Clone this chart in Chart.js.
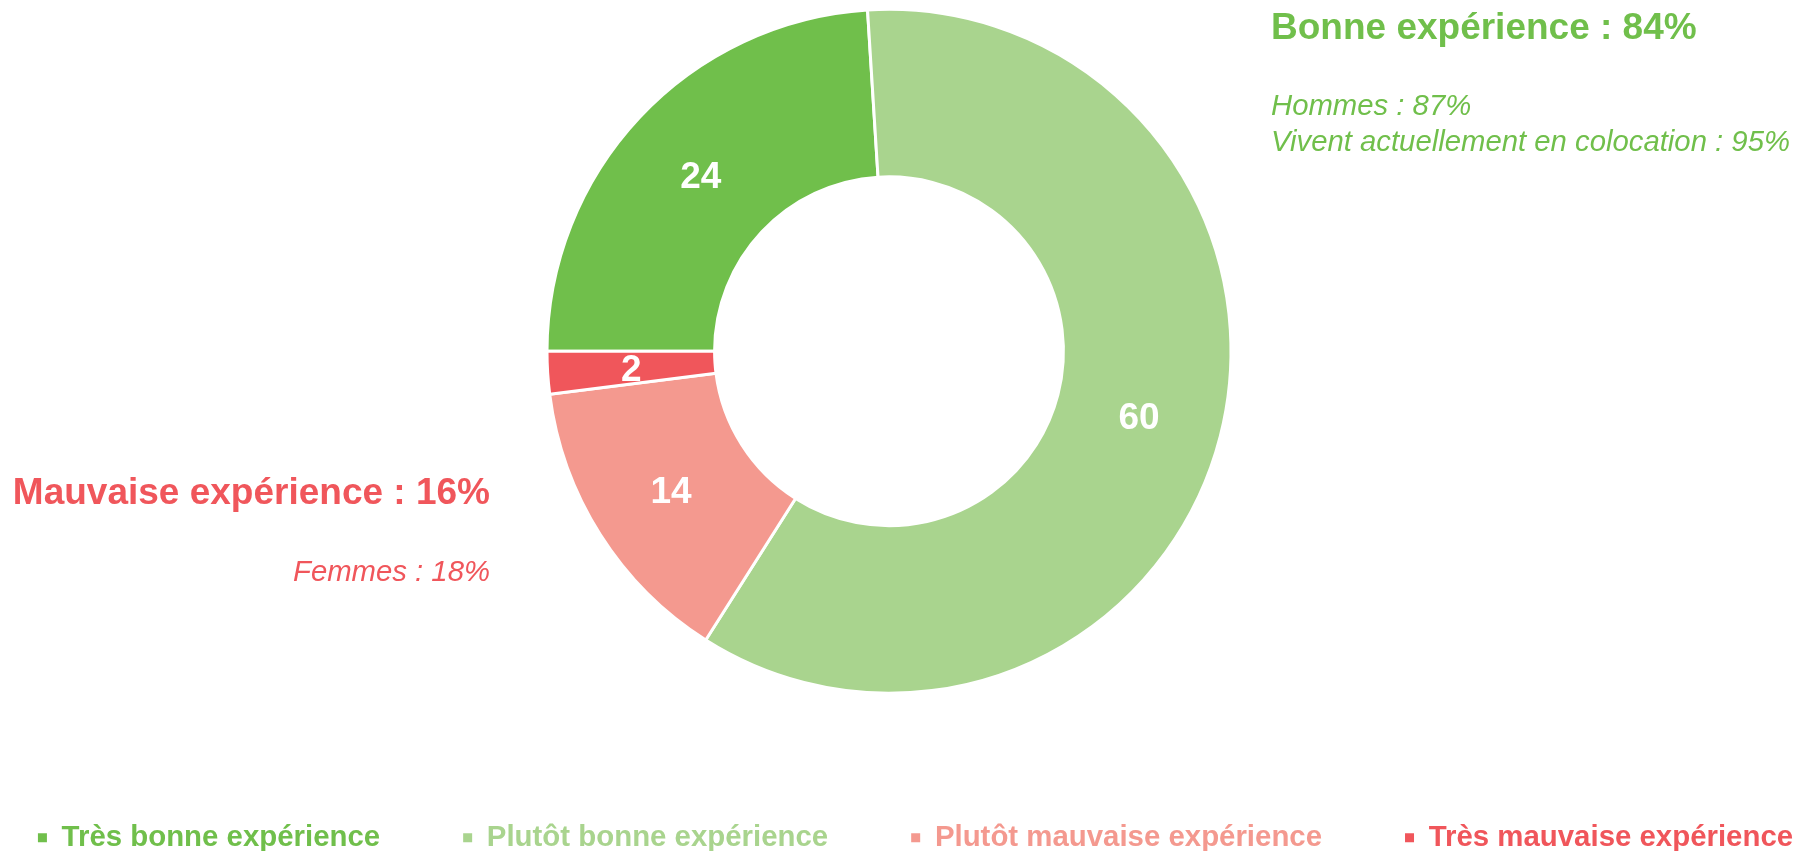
<!DOCTYPE html>
<html>
<head>
<meta charset="utf-8">
<script src="https://cdn.jsdelivr.net/npm/chart.js@4/dist/chart.umd.min.js"></script>
<style>
  html, body { margin: 0; padding: 0; background: #fff; }
  #wrap { width: 1812px; height: 851px; }
</style>
</head>
<body>
<div id="wrap"><canvas id="chart"></canvas></div>
<script>
const categories = ['Très bonne expérience', 'Plutôt bonne expérience', 'Plutôt mauvaise expérience', 'Très mauvaise expérience']
const values = [24, 60, 14, 2]
const colors = ['#70bf4b', '#a9d48e', '#f4998f', '#f0565b']

const goodTitle = 'Bonne expérience : 84%'
const goodNotes = ['Hommes : 87%', 'Vivent actuellement en colocation : 95%']
const badTitle = 'Mauvaise expérience : 16%'
const badNotes = ['Femmes : 18%']

const sideText = {
  id: 'sideText',
  afterDraw (chart) {
    const ctx = chart.ctx
    ctx.save()
    ctx.textBaseline = 'middle'
    ctx.fillStyle = colors[0]
    ctx.textAlign = 'left'
    ctx.font = 'bold 37px "Liberation Sans", Arial, sans-serif'
    ctx.fillText(goodTitle, 1271, 29)
    ctx.font = 'italic 29.3px "Liberation Sans", Arial, sans-serif'
    goodNotes.forEach((t, i) => ctx.fillText(t, 1271, 107 + i * 36))

    ctx.fillStyle = colors[3]
    ctx.textAlign = 'right'
    ctx.font = 'bold 37px "Liberation Sans", Arial, sans-serif'
    ctx.fillText(badTitle, 490, 494)
    ctx.font = 'italic 29.3px "Liberation Sans", Arial, sans-serif'
    badNotes.forEach((t, i) => ctx.fillText(t, 490, 573 + i * 36))
    ctx.restore()
  }
}

// value inside each slice, at the arc centre
const sliceLabels = {
  id: 'sliceLabels',
  afterDatasetsDraw (chart) {
    const ctx = chart.ctx
    const meta = chart.getDatasetMeta(0)
    ctx.save()
    ctx.fillStyle = '#fff'
    ctx.font = 'bold 37px "Liberation Sans", Arial, sans-serif'
    ctx.textAlign = 'center'
    ctx.textBaseline = 'middle'
    meta.data.forEach((arc, i) => {
      const p = arc.tooltipPosition()
      ctx.fillText(String(values[i]), p.x, p.y + 3)
    })
    ctx.restore()
  }
}

// eslint-disable-next-line no-new
new Chart(document.getElementById('chart'), {
  type: 'doughnut',
  data: {
    labels: categories,
    datasets: [{
      data: values,
      backgroundColor: colors,
      borderColor: '#fff',
      borderWidth: 3
    }]
  },
  options: {
    responsive: true,
    maintainAspectRatio: false,
    animation: false,
    rotation: -90,
    radius: 342,
    cutout: '51%',
    layout: { padding: { top: 0, right: -69, bottom: -11.5, left: -50 } },
    plugins: {
      tooltip: { enabled: false },
      // empty title on the right, only there to push the ring left of the legend centre
      title: {
        display: true,
        position: 'right',
        text: '',
        padding: 0,
        font: { size: 103, lineHeight: 1 }
      },
      legend: {
        position: 'bottom',
        title: { display: true, text: '', padding: 0, font: { size: 37.5, lineHeight: 1 } },
        labels: {
          boxWidth: 9,
          boxHeight: 9,
          padding: 83,
          font: { family: '"Liberation Sans", Arial, sans-serif', size: 29.4, weight: 'bold' },
          generateLabels () {
            return categories.map((c, i) => ({
              text: c,
              fillStyle: colors[i],
              strokeStyle: colors[i],
              lineWidth: 0,
              fontColor: colors[i],
              index: i
            }))
          }
        }
      }
    }
  },
  plugins: [sliceLabels, sideText]
})
</script>
</body>
</html>
